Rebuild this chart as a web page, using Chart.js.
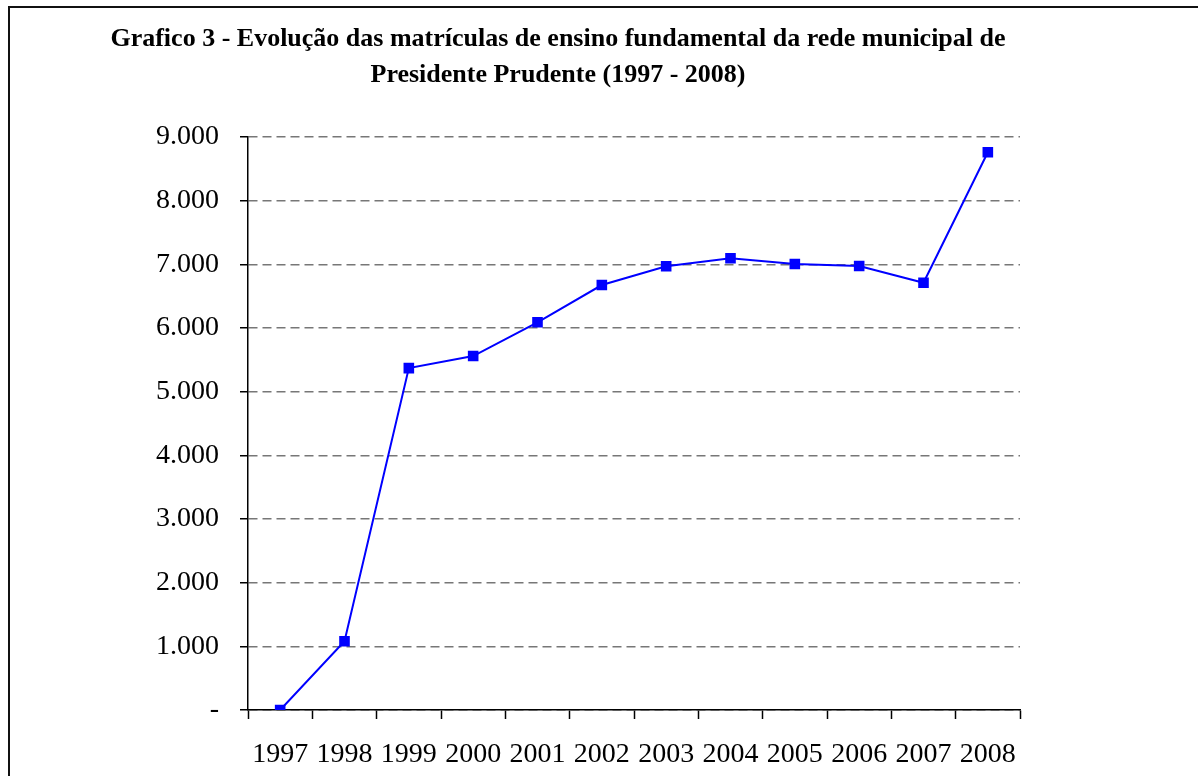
<!DOCTYPE html>
<html>
<head>
<meta charset="utf-8">
<script src="https://cdn.jsdelivr.net/npm/chart.js@4"></script>
<style>
  html, body { margin: 0; padding: 0; background: #fff; overflow: hidden; }
  #wrap { position: relative; width: 1198px; height: 776px; }
  #frame { position: absolute; left: 8px; top: 6px; width: 1300px; height: 900px;
           border-left: 2px solid #111; border-top: 2px solid #111; pointer-events: none; }
  canvas { position: absolute; left: 0; top: 0; }
</style>
</head>
<body>
<div id="wrap">
  <canvas id="c" width="1198" height="776"></canvas>
  <div id="frame"></div>
</div>
<script>
const titleLines = [
  'Grafico 3 - Evolução das matrículas de ensino fundamental da rede municipal de',
  'Presidente Prudente (1997 - 2008)'
];
const years = ['1997','1998','1999','2000','2001','2002','2003','2004','2005','2006','2007','2008'];
const enrollments = [0, 1080, 5370, 5560, 6090, 6675, 6970, 7095, 7005, 6975, 6710, 8760];
const yTickLabels = ['-','1.000','2.000','3.000','4.000','5.000','6.000','7.000','8.000','9.000'];

const serif = "'Liberation Serif', 'Times New Roman', serif";

new Chart(document.getElementById('c'), {
  type: 'line',
  data: {
    labels: years,
    datasets: [{
      data: enrollments,
      borderColor: '#0000ff',
      backgroundColor: '#0000ff',
      borderWidth: 2,
      pointStyle: 'rect',
      pointRadius: 7.5,
      pointHoverRadius: 7.5,
      pointBorderWidth: 0,
      tension: 0,
      fill: false
    }]
  },
  options: {
    responsive: false,
    animation: false,
    devicePixelRatio: 1,
    layout: { padding: { left: 96, right: 178, top: 0, bottom: 0 } },
    plugins: {
      legend: { display: false },
      tooltip: { enabled: false },
      title: {
        display: true,
        text: titleLines,
        color: '#000',
        font: { family: serif, size: 26, weight: 'bold', lineHeight: 1.385 },
        padding: { top: 21, bottom: 44 }
      }
    },
    scales: {
      x: {
        type: 'category',
        offset: true,
        border: { display: true, color: '#000', width: 1.5 },
        grid: {
          offset: true,
          drawOnChartArea: false,
          drawTicks: true,
          tickLength: 9,
          tickColor: '#000',
          tickWidth: 1.5
        },
        ticks: {
          color: '#000',
          font: { family: serif, size: 28 },
          padding: 19,
          maxRotation: 0,
          autoSkip: false
        },
        afterFit: (s) => { s.height = 66; }
      },
      y: {
        min: 0,
        max: 9000,
        border: { display: true, color: '#000', width: 1.5, dash: [9, 5] },
        grid: {
          color: '#777',
          lineWidth: 1.5,
          tickBorderDash: [],
          drawTicks: true,
          tickLength: 8,
          tickColor: '#000',
          tickWidth: 1.5
        },
        ticks: {
          stepSize: 1000,
          color: '#000',
          font: { family: serif, size: 28 },
          padding: 21,
          callback: (v, i) => yTickLabels[i]
        },
        afterFit: (s) => { s.width = 152; }
      }
    }
  }
});
</script>
</body>
</html>
